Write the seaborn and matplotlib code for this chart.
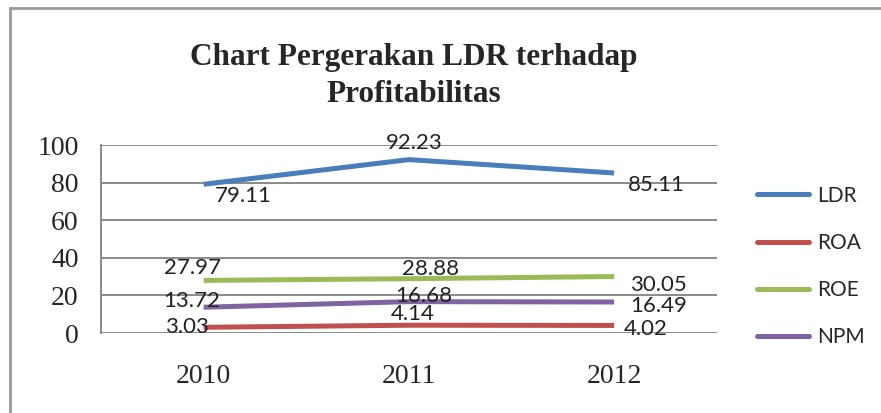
import pandas as pd
import matplotlib.pyplot as plt
import seaborn as sns
from matplotlib.lines import Line2D

# data
years = ["2010", "2011", "2012"]
ldr = [79.11, 92.23, 85.11]
roa = [3.03, 4.14, 4.02]
roe = [27.97, 28.88, 30.05]
npm = [13.72, 16.68, 16.49]
series_names = ["LDR", "ROA", "ROE", "NPM"]
colors = ["#4A7EBB", "#C0504D", "#9BBB59", "#8064A2"]

# label offsets (pixels) like the Excel chart put them
offsets = {
    "LDR": [(40, -12), (5, 17), (42, -12)],
    "ROA": [(-17, 0), (4, 11), (32, -4)],
    "ROE": [(-11, 12), (22, 10), (44, -8)],
    "NPM": [(-12, 6), (15, 6), (44, -4)],
}

sns.set_style("white")
plt.rcParams["font.family"] = ["Liberation Serif", "DejaVu Serif"]

rows = []
for name, vals in zip(series_names, [ldr, roa, roe, npm]):
    for i, v in enumerate(vals):
        rows.append({"pos": i, "value": v, "series": name})
df = pd.DataFrame(rows)

fig = plt.figure(figsize=(8.81, 4.13), dpi=100)
ax = fig.add_axes([0.1146, 0.1937, 0.699, 0.4552])

sns.lineplot(data=df, x="pos", y="value", hue="series", hue_order=series_names,
             palette=colors, linewidth=3.6, legend=False, ax=ax,
             solid_capstyle="butt")

for name, vals in zip(series_names, [ldr, roa, roe, npm]):
    for i, v in enumerate(vals):
        ax.annotate(f"{v:.2f}", (i, v), xytext=offsets[name][i],
                    textcoords="offset pixels", ha="center", va="center",
                    fontsize=16, family="Lato", color="#222222")

ax.set_xlim(-0.5, 2.5)
ax.set_ylim(0, 100)
ax.set_yticks([0, 20, 40, 60, 80, 100])
ax.set_xticks(range(len(years)))
ax.set_xticklabels(years)
ax.set_xlabel("")
ax.set_ylabel("")
ax.tick_params(axis="y", labelsize=20, pad=16, length=0)
ax.tick_params(axis="x", labelsize=20, pad=22, length=0)
ax.yaxis.grid(True, color="#8a8a8a", linewidth=1.4)
ax.set_axisbelow(True)
for s in ["top", "right", "bottom"]:
    ax.spines[s].set_visible(False)
ax.spines["left"].set_color("#8a8a8a")
ax.spines["left"].set_linewidth(1.4)

# title
fig.text(0.47, 0.815, "Chart Pergerakan LDR terhadap\nProfitabilitas",
         ha="center", va="center", fontsize=22.5, fontweight="bold",
         linespacing=1.36)

# legend
handles = [Line2D([0], [0], color=c, linewidth=3.6) for c in colors]
fig.legend(handles, series_names, loc="center left",
           bbox_to_anchor=(0.859, 0.355), frameon=False,
           prop={"family": "Lato", "size": 15}, handlelength=2.5,
           handletextpad=0.4, labelspacing=1.3, borderpad=0, borderaxespad=0)

# chart border (top and left edges visible in the crop)
fig.add_artist(Line2D([0.0114, 1.0], [0.9806, 0.9806], color="#999999", linewidth=2))
fig.add_artist(Line2D([0.0114, 0.0114], [0.0, 0.9806], color="#999999", linewidth=2))

plt.savefig("out.png", dpi=100)
